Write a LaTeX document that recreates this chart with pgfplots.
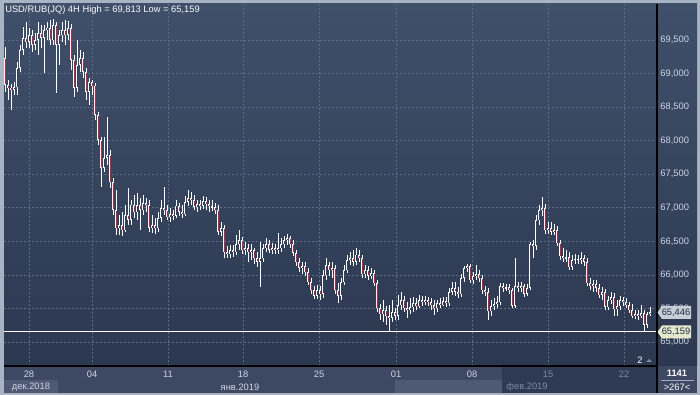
\documentclass[border=0pt]{standalone}
\usepackage{fontspec}
\setmainfont{Liberation Sans}
\usepackage{pgfplots}
\usepackage{pgfplotstable}
\pgfplotsset{compat=1.18}
\definecolor{bgtop}{RGB}{64,79,106}
\definecolor{bgbot}{RGB}{44,56,80}
\definecolor{framec}{RGB}{168,179,195}
\definecolor{strip}{RGB}{61,73,98}
\definecolor{striplight}{RGB}{78,90,116}
\definecolor{stripdark}{RGB}{46,58,83}
\definecolor{gridc}{RGB}{92,108,138}
\definecolor{lbl}{RGB}{205,214,228}
\definecolor{dim}{RGB}{125,138,162}
\definecolor{candred}{RGB}{196,36,60}
\definecolor{candin}{RGB}{52,65,90}
\definecolor{boxgrey}{RGB}{200,206,215}
\definecolor{boxyel}{RGB}{230,232,204}
\definecolor{boxtxt}{RGB}{30,44,72}

\pgfplotstableread{
x o h l c
5 69.232 69.396 68.725 68.830
8 68.830 68.904 68.606 68.785
11 68.785 68.844 68.457 68.755
14 68.755 68.874 68.681 68.800
17 68.800 69.172 68.681 69.083
20 69.083 69.426 69.023 69.351
23 69.351 69.694 69.277 69.530
26 69.530 69.768 69.381 69.470
29 69.470 69.679 69.381 69.575
32 69.575 69.649 69.321 69.426
35 69.426 69.604 69.351 69.500
38 69.500 69.768 69.277 69.604
41 69.604 69.724 69.381 69.530
44 69.530 69.724 69.008 69.649
47 69.649 69.768 69.500 69.679
50 69.679 69.798 69.426 69.500
53 69.500 69.813 69.426 69.724
56 69.724 69.768 68.710 69.426
59 69.426 69.649 69.128 69.575
62 69.575 69.768 69.470 69.649
65 69.649 69.798 69.426 69.575
68 69.575 69.783 69.500 69.679
71 69.679 69.738 69.053 69.202
74 69.202 69.277 68.651 68.785
77 68.785 69.500 68.725 69.128
80 69.128 69.351 69.023 69.232
83 69.232 69.321 68.934 69.023
86 69.023 69.083 68.606 68.725
89 68.725 68.934 68.532 68.874
92 68.874 68.904 68.681 68.815
95 68.815 68.859 68.308 68.383
98 68.383 68.427 67.936 68.010
101 68.010 68.055 67.310 67.593
104 67.593 68.055 67.533 67.742
107 67.742 68.353 67.638 67.787
110 67.787 67.861 67.295 67.384
113 67.384 67.444 66.893 66.967
116 66.967 67.265 66.595 66.699
119 66.699 66.893 66.595 66.744
122 66.744 66.937 66.580 66.669
125 66.669 67.042 66.639 66.893
128 66.893 67.295 66.744 66.818
131 66.818 67.116 66.744 67.042
134 67.042 67.191 66.848 66.937
137 66.937 67.220 66.818 67.042
140 67.042 67.146 66.669 66.967
143 66.967 67.191 66.893 67.071
146 67.071 67.146 66.937 67.042
149 67.042 67.116 66.639 66.699
152 66.699 66.893 66.624 66.744
155 66.744 66.848 66.609 66.699
158 66.699 66.937 66.639 66.848
161 66.848 67.116 66.788 66.997
164 66.997 67.310 66.893 66.967
167 66.967 67.042 66.818 66.863
170 66.863 66.997 66.788 66.907
173 66.907 66.967 66.818 66.878
176 66.878 67.116 66.848 67.027
179 67.027 67.071 66.878 66.937
182 66.937 67.042 66.848 66.907
185 66.907 67.176 66.878 67.086
188 67.086 67.265 67.027 67.146
191 67.146 67.235 67.042 67.116
194 67.116 67.191 66.967 67.012
197 67.012 67.116 66.937 67.056
200 67.056 67.116 66.967 67.027
203 67.027 67.176 66.982 67.101
206 67.101 67.161 66.967 67.056
209 67.056 67.116 66.937 67.027
212 67.027 67.116 66.952 67.012
215 67.012 67.071 66.907 66.967
218 66.967 67.042 66.595 66.639
221 66.639 66.788 66.580 66.699
224 66.699 66.744 66.252 66.341
227 66.341 66.431 66.252 66.311
230 66.311 66.446 66.252 66.371
233 66.371 66.446 66.267 66.341
236 66.341 66.595 66.297 66.460
239 66.460 66.669 66.371 66.520
242 66.520 66.565 66.311 66.371
245 66.371 66.490 66.297 66.401
248 66.401 66.460 66.192 66.341
251 66.341 66.460 66.222 66.371
254 66.371 66.401 66.162 66.252
257 66.252 66.341 66.118 66.192
260 66.192 66.490 65.820 66.252
263 66.252 66.460 66.192 66.401
266 66.401 66.550 66.341 66.460
269 66.460 66.520 66.326 66.371
272 66.371 66.475 66.311 66.401
275 66.401 66.460 66.311 66.371
278 66.371 66.624 66.311 66.401
281 66.401 66.550 66.341 66.460
284 66.460 66.580 66.401 66.520
287 66.520 66.609 66.446 66.550
290 66.550 66.580 66.401 66.460
293 66.460 66.520 66.282 66.326
296 66.326 66.371 66.133 66.192
299 66.192 66.252 66.043 66.103
302 66.103 66.192 66.013 66.133
305 66.133 66.192 65.984 66.043
308 66.043 66.103 65.850 65.894
311 65.894 65.954 65.715 65.775
314 65.775 65.835 65.641 65.686
317 65.686 65.850 65.641 65.775
320 65.775 65.835 65.626 65.715
323 65.715 66.073 65.656 65.999
326 65.999 66.252 65.924 66.148
329 66.148 66.192 65.984 66.073
332 66.073 66.192 65.954 66.103
335 66.103 66.148 65.715 65.775
338 65.775 65.879 65.581 65.686
341 65.686 65.954 65.626 65.894
344 65.894 66.148 65.850 66.073
347 66.073 66.297 66.028 66.222
350 66.222 66.341 66.148 66.252
353 66.252 66.371 66.133 66.192
356 66.192 66.401 66.148 66.297
359 66.297 66.371 66.192 66.252
362 66.252 66.297 65.954 66.013
365 66.013 66.148 65.954 66.073
368 66.073 66.133 65.924 65.984
371 65.984 66.103 65.939 66.028
374 66.028 66.073 65.835 65.879
377 65.879 65.924 65.447 65.507
380 65.507 65.566 65.328 65.417
383 65.417 65.626 65.298 65.477
386 65.477 65.537 65.254 65.388
389 65.388 65.552 65.159 65.358
392 65.358 65.626 65.298 65.447
395 65.447 65.507 65.328 65.388
398 65.388 65.701 65.328 65.552
401 65.552 65.745 65.477 65.626
404 65.626 65.686 65.447 65.507
407 65.507 65.596 65.358 65.477
410 65.477 65.656 65.417 65.522
413 65.522 65.671 65.447 65.581
416 65.581 65.656 65.477 65.537
419 65.537 65.701 65.507 65.626
422 65.626 65.686 65.537 65.596
425 65.596 65.686 65.552 65.626
428 65.626 65.671 65.537 65.596
431 65.596 65.656 65.477 65.552
434 65.552 65.626 65.403 65.507
437 65.507 65.626 65.447 65.581
440 65.581 65.656 65.507 65.552
443 65.552 65.671 65.537 65.611
446 65.611 65.671 65.522 65.581
449 65.581 65.805 65.537 65.745
452 65.745 65.894 65.701 65.805
455 65.805 65.894 65.686 65.745
458 65.745 65.820 65.656 65.715
461 65.715 66.013 65.671 65.954
464 65.954 66.133 65.894 66.103
467 66.103 66.162 66.043 66.133
470 66.133 66.162 65.879 65.924
473 65.924 66.043 65.864 65.984
476 65.984 66.148 65.924 66.013
479 66.013 66.073 65.894 65.954
482 65.954 65.999 65.715 65.775
485 65.775 65.835 65.686 65.745
488 65.745 65.805 65.328 65.462
491 65.462 65.626 65.388 65.537
494 65.537 65.656 65.477 65.566
497 65.566 65.686 65.507 65.596
500 65.596 65.879 65.552 65.835
503 65.835 65.879 65.745 65.805
506 65.805 65.864 65.760 65.820
509 65.820 65.864 65.715 65.775
512 65.775 65.805 65.507 65.537
515 65.537 66.252 65.507 65.835
518 65.835 65.894 65.745 65.805
521 65.805 65.894 65.745 65.835
524 65.835 65.864 65.671 65.715
527 65.715 65.864 65.686 65.805
530 65.805 66.490 65.775 66.460
533 66.460 66.520 66.252 66.431
536 66.431 66.893 66.371 66.818
539 66.818 67.042 66.744 66.967
542 66.967 67.161 66.878 66.997
545 66.997 67.056 66.609 66.669
548 66.669 66.788 66.609 66.699
551 66.699 66.788 66.595 66.639
554 66.639 66.758 66.595 66.669
557 66.669 66.729 66.431 66.475
560 66.475 66.520 66.222 66.282
563 66.282 66.401 66.192 66.252
566 66.252 66.371 66.192 66.267
569 66.267 66.341 66.073 66.118
572 66.118 66.297 66.073 66.222
575 66.222 66.311 66.162 66.237
578 66.237 66.297 66.162 66.222
581 66.222 66.341 66.162 66.252
584 66.252 66.297 66.133 66.192
587 66.192 66.252 65.835 65.879
590 65.879 65.954 65.775 65.835
593 65.835 65.924 65.745 65.864
596 65.864 65.924 65.745 65.805
599 65.805 65.864 65.656 65.701
602 65.701 65.820 65.626 65.745
605 65.745 65.790 65.477 65.522
608 65.522 65.686 65.477 65.626
611 65.626 65.745 65.566 65.671
614 65.671 65.730 65.388 65.492
617 65.492 65.626 65.388 65.537
620 65.537 65.686 65.477 65.626
623 65.626 65.671 65.537 65.596
626 65.596 65.656 65.507 65.552
629 65.552 65.596 65.432 65.477
632 65.477 65.566 65.358 65.388
635 65.388 65.477 65.343 65.417
638 65.417 65.477 65.328 65.388
641 65.388 65.552 65.358 65.432
644 65.432 65.477 65.164 65.254
647 65.254 65.447 65.209 65.417
650 65.417 65.522 65.388 65.446
}\candles

\begin{document}
\begin{tikzpicture}
\def\fs{\fontsize{7}{8}\selectfont}
% background (pixel frame: 1px = 0.75pt, origin top-left)
\begin{scope}[x=0.75pt,y=-0.75pt,shift={(0pt,296.25pt)}]
\fill[framec] (0,0) rectangle (700,395);
\end{scope}
\shade[top color=bgtop,bottom color=bgbot] (3pt,21.75pt) rectangle (492.75pt,293.25pt);
\shade[top color=bgtop,bottom color=bgbot] (492.75pt,21.75pt) rectangle (522.75pt,293.25pt);
\begin{scope}[x=0.75pt,y=-0.75pt,shift={(0pt,296.25pt)}]
\fill[strip] (4,366) rectangle (697,393);
\fill[striplight] (4,380) rectangle (58,393);
\fill[striplight] (395,380) rectangle (502,393);
\fill[stripdark] (502,367) rectangle (657,393);
\end{scope}

\begin{axis}[
  at={(3pt,21.75pt)}, anchor=south west,
  scale only axis, width=489.75pt, height=271.5pt,
  xmin=4, xmax=657, ymin=64.643, ymax=70.036,
  axis line style={draw=none},
  major tick length=0pt, tick style={draw=none},
  xtick={29,92,168,243,319,396,472,548,624},
  xticklabels={28,04,11,18,25,01,08,\textcolor{dim}{15},\textcolor{dim}{22}},
  ytick={65,65.5,66,66.5,67,67.5,68,68.5,69,69.5},
  yticklabel pos=right,
  /pgf/number format/assume math mode=true,
  yticklabel style={anchor=west, inner sep=0pt, xshift=2.4pt, font=\fs, text=lbl,
    /pgf/number format/.cd, fixed, fixed zerofill, precision=3, use comma, 1000 sep={}},
  xticklabel style={anchor=north, inner sep=0pt, yshift=-3.6pt, font=\fs, text=lbl},
  grid=major,
  major grid style={gridc, dash pattern=on 1.5pt off 1.5pt, line width=0.55pt},
  candle/.style={draw=none, mark=none, forget plot},
]
\addplot[white, line width=0.9pt, mark=none] coordinates {(4,65.159) (657,65.159)};
% wicks
\addplot[candle, error bars/.cd, y dir=both, y explicit, error mark=none,
  error bar style={draw=white, line width=0.6pt, line cap=butt}]
  table[x=x, y expr={(\thisrow{h}+\thisrow{l})/2}, y error expr={(\thisrow{h}-\thisrow{l})/2}] {\candles};
% bodies
\addplot[candle, error bars/.cd, y dir=both, y explicit, error mark=none,
  error bar style={draw=white, line width=1.95pt, line cap=butt}]
  table[x=x, y expr={(\thisrow{o}+\thisrow{c})/2}, y error expr={max(abs(\thisrow{o}-\thisrow{c})/2+0.004,0.008)}] {\candles};
% down candles: red interior
\addplot[candle, error bars/.cd, y dir=both, y explicit, error mark=none,
  error bar style={draw=candred, line width=0.7pt, line cap=butt}]
  table[x=x, y expr={(\thisrow{o}+\thisrow{c})/2}, y error expr={max((\thisrow{o}-\thisrow{c})/2-0.008,0)}] {\candles};
% up candles: hollow interior
\addplot[candle, error bars/.cd, y dir=both, y explicit, error mark=none,
  error bar style={draw=candin, line width=0.7pt, line cap=butt}]
  table[x=x, y expr={(\thisrow{o}+\thisrow{c})/2}, y error expr={max((\thisrow{c}-\thisrow{o})/2-0.008,0)}] {\candles};
\end{axis}

\begin{scope}[x=0.75pt,y=-0.75pt,shift={(0pt,296.25pt)}]
\draw[black, line width=0.8pt] (657,4) -- (657,393);
\draw[black, line width=0.8pt] (4,366) -- (657,366);
\node[anchor=west, inner sep=0pt, font=\fs, text=white!92!lbl] at (5,10) {USD/RUB(JQ) 4H High = 69,813 Low = 65,159};
\node[font=\fs, text=lbl, inner sep=0pt] at (31,387) {дек.2018};
\node[font=\fs, text=lbl, inner sep=0pt] at (240,387) {янв.2019};
\node[font=\fs, text=dim, inner sep=0pt] at (527,387) {фев.2019};
\node[font=\fs\bfseries, text=white, inner sep=0pt] at (677,373.5) {1141};
\draw[lbl!70!strip, line width=0.6pt] (661,380) -- (694,380);
\node[font=\fs, text=white, inner sep=0pt] at (677,387) {>267<};
\node[font=\fs, text=white, inner sep=0pt] at (640,360) {2};
\fill[dim] (646,362) -- (652,362) -- (649,359) -- cycle;
% price tags
\fill[boxgrey] (657.5,312.5) -- (662,306) -- (691,306) -- (691,319) -- (662,319) -- cycle;
\node[anchor=west, font=\fs, text=boxtxt, inner sep=0pt] at (661.5,312.5) {65,446};
\fill[boxyel] (657.5,332) -- (662,325.5) -- (691,325.5) -- (691,338.5) -- (662,338.5) -- cycle;
\node[anchor=west, font=\fs, text=boxtxt, inner sep=0pt] at (661.5,332) {65,159};
\end{scope}
\pgfresetboundingbox
\path[use as bounding box] (0,0) rectangle (525pt,296.25pt);
\end{tikzpicture}
\end{document}
